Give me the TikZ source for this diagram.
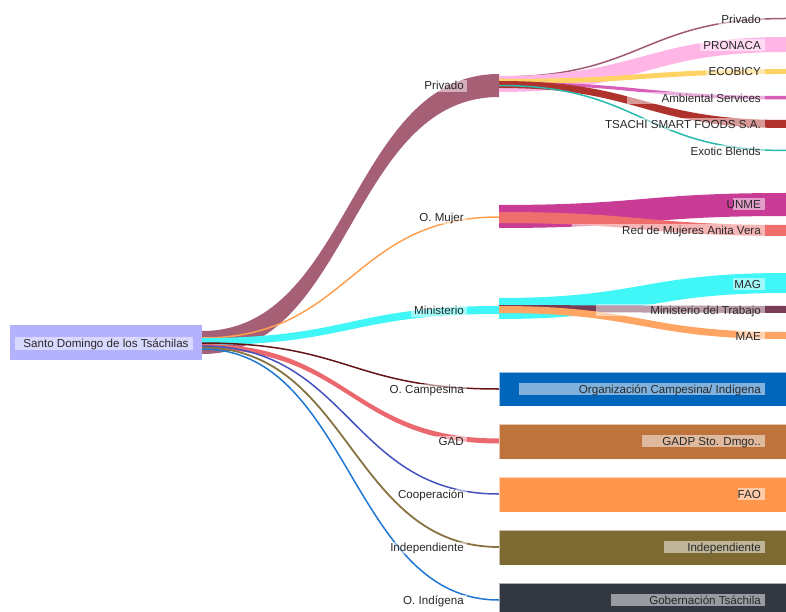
\documentclass[tikz,border=0pt]{standalone}
\usepackage{fontspec}
\setmainfont{Liberation Sans}
\definecolor{txt}{RGB}{40,40,40}
\definecolor{csrc}{RGB}{180,178,255}
\definecolor{cmauve}{RGB}{166,96,118}
\definecolor{cmauveb}{RGB}{160,90,115}
\definecolor{ccyan}{RGB}{64,246,246}
\definecolor{corange}{RGB}{255,160,80}
\definecolor{cdbrown}{RGB}{100,20,20}
\definecolor{csalmon}{RGB}{235,105,110}
\definecolor{cindigo}{RGB}{70,80,190}
\definecolor{colive}{RGB}{135,115,65}
\definecolor{cblue}{RGB}{30,120,210}
\definecolor{cpink}{RGB}{255,182,230}
\definecolor{cyellow}{RGB}{255,210,100}
\definecolor{cambient}{RGB}{215,95,185}
\definecolor{cred}{RGB}{175,50,45}
\definecolor{cteal}{RGB}{40,185,175}
\definecolor{cmagenta}{RGB}{200,60,150}
\definecolor{csalmonb}{RGB}{238,110,110}
\definecolor{cplum}{RGB}{120,60,85}
\definecolor{csand}{RGB}{255,165,100}
\definecolor{corg}{RGB}{0,102,187}
\definecolor{cgadp}{RGB}{190,115,60}
\definecolor{cfao}{RGB}{255,150,75}
\definecolor{cindep}{RGB}{125,105,50}
\definecolor{cgob}{RGB}{50,55,65}
\newcommand{\sband}[7]{\fill[#1] (#2,#3) .. controls ({(#2+#5)/2},#3) and ({(#2+#5)/2},#6) .. (#5,#6) -- (#5,#7) .. controls ({(#2+#5)/2},#7) and ({(#2+#5)/2},#4) .. (#2,#4) -- cycle;}
\newcommand{\sline}[6]{\draw[#1, line width=#2] (#3,#4) .. controls ({(#3+#5)/2},#4) and ({(#3+#5)/2},#6) .. (#5,#6);}
\tikzset{
  lab/.style={anchor=base east, inner sep=0pt, text=txt, font=\fontsize{11.6}{13}\selectfont},
  lbox/.style={fill=white, fill opacity=0.5},
  mlab/.style={anchor=east, inner xsep=3pt, inner ysep=0.6pt, text height=8.3pt, text depth=2.2pt, fill=white, fill opacity=0.5, text opacity=1, text=txt, font=\fontsize{11.6}{13}\selectfont},
  brect/.style={draw=white, draw opacity=0.6, line width=0.6pt}
}
\newcommand{\rlab}[4]{\fill[lbox] (#3,#2-6) rectangle (765,#2+6);
  \node[lab] (#1) at (761,#2+4.2) {#4};}
\begin{document}
\begin{tikzpicture}[x=1pt,y=-1pt]
\useasboundingbox (0,0) rectangle (786,612);
% flows from source
\sband{cmauve}{202}{331}{354}{499}{74}{97}
\sline{corange}{1.5}{202}{338}{499}{217}
\sband{ccyan}{202}{338}{345}{499}{306}{314}
\sline{cdbrown}{1.5}{202}{343}{499}{389}
\sband{csalmon}{202}{344}{349}{499}{438.5}{443.5}
\sline{cindigo}{1.5}{202}{346}{499}{494}
\sline{colive}{1.8}{202}{347.5}{499}{547}
\sline{cblue}{1.5}{202}{349}{499}{600}
% source node
\fill[csrc] (10,325) rectangle (202,360);
\fill[white, opacity=0.5] (15,336.5) rectangle (193,349.5);
\node[lab, anchor=base] (src) at (106,347) {Santo Domingo de los Tsáchilas};
% Privado outgoing
\sline{cmauveb}{1.5}{499}{77}{786}{18.5}
\sband{cpink}{499}{76}{92}{786}{37}{52}
\sband{cyellow}{499}{79}{84}{786}{69}{74}
\sband{cambient}{499}{82}{85}{786}{96}{99.5}
\sband{cred}{499}{81}{88}{786}{120}{128}
\sline{cteal}{1.5}{499}{85.5}{786}{150.5}
% O. Mujer outgoing
\sband{cmagenta}{499}{205}{228}{786}{193}{216}
\sband{csalmonb}{499}{212}{223}{786}{225}{236}
% Ministerio outgoing
\sband{ccyan}{499}{298}{319}{786}{273}{293}
\sband{cplum}{499}{305}{312}{786}{306}{313}
\sband{csand}{499}{306}{313}{786}{332}{339}
% bottom blocks
\fill[corg, brect] (499,372) rectangle (786,406);
\fill[cgadp, brect] (499,424) rectangle (786,459);
\fill[cfao, brect] (499,477) rectangle (786,512);
\fill[cindep, brect] (499,530) rectangle (786,565);
\fill[cgob, brect] (499,583) rectangle (786,618);
% middle labels
\node[mlab] (mpriv) at (467,86) {Privado};
\node[mlab] (mmuj) at (467,218) {O. Mujer};
\node[mlab] (mmin) at (467,311) {Ministerio};
\node[mlab] (mcamp) at (467,390) {O. Campesina};
\node[mlab] (mgad) at (467,442) {GAD};
\node[mlab] (mcoop) at (467,495) {Cooperación};
\node[mlab] (mind) at (467,548) {Independiente};
\node[mlab] (mindig) at (467,601) {O. Indígena};
% right labels
\rlab{rpriv}{19}{718}{Privado}
\rlab{rpron}{45}{700}{PRONACA}
\rlab{reco}{71}{706}{ECOBICY}
\rlab{ramb}{98}{627}{Ambiental Services}
\rlab{rtsa}{124}{587}{TSACHI SMART FOODS S.A.}
\rlab{rexo}{151}{665}{Exotic Blends}
\rlab{rune}{204}{733}{UNME}
\rlab{rred}{230}{572}{Red de Mujeres Anita Vera}
\rlab{rmag}{284}{733}{MAG}
\rlab{rmtr}{310}{596}{Ministerio del Trabajo}
\rlab{rmae}{336}{737}{MAE}
\rlab{rorg}{389}{519}{Organización Campesina/ Indígena}
\rlab{rgadp}{441}{642}{GADP Sto. Dmgo..}
\rlab{rfao}{494}{738}{FAO}
\rlab{rind}{547}{664}{Independiente}
\rlab{rgob}{600}{611}{Gobernación Tsáchila}
\end{tikzpicture}
\end{document}
